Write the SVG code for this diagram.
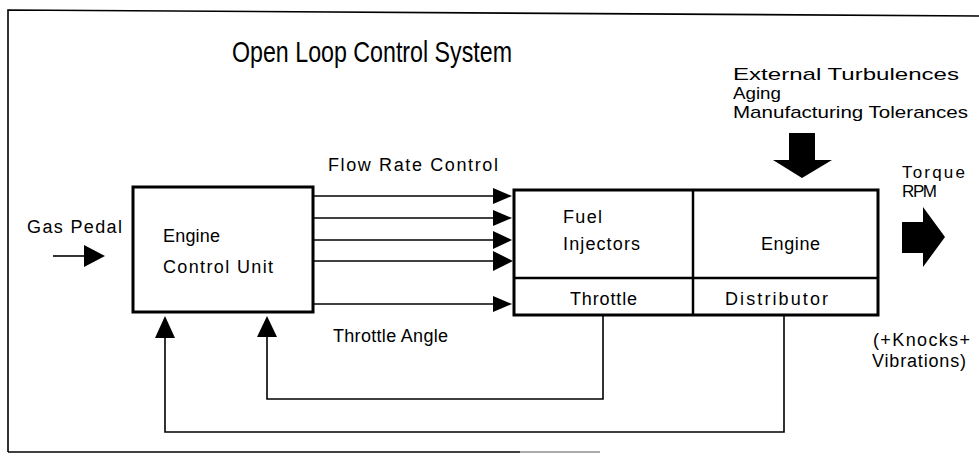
<svg xmlns="http://www.w3.org/2000/svg" width="979" height="459" viewBox="0 0 979 459">
<style>
text{font-family:"Liberation Sans",Arial,sans-serif;font-size:18px;fill:#000}
.title{font-size:30px}
.sm{font-size:17px}
.box{fill:none;stroke:#000;stroke-width:3}
.ln{fill:none;stroke:#000;stroke-width:1.6}
.head{fill:#000}
</style>
<rect width="979" height="459" fill="#fff"/>
<g id="frame">
<path d="M8,452 L8,10 L979,16" class="ln" stroke-width="2"/>
<line x1="8" y1="452" x2="520" y2="452" class="ln" stroke-width="2"/>
<line x1="520" y1="452" x2="600" y2="452" stroke="#aaa" stroke-width="2"/>
</g>
<g id="title"><text class="title" x="232" y="62" textLength="280" lengthAdjust="spacingAndGlyphs">Open Loop Control System</text></g>
<g id="disturbances">
<text class="sm" x="733" y="80" textLength="226" lengthAdjust="spacingAndGlyphs">External Turbulences</text>
<text class="sm" x="733" y="99" textLength="48" lengthAdjust="spacingAndGlyphs">Aging</text>
<text class="sm" x="733" y="118" textLength="235" lengthAdjust="spacingAndGlyphs">Manufacturing Tolerances</text>
<path class="head" d="M789,133 L815,133 L815,160 L832,160 L802,178 L773,160 L789,160 Z"/>
</g>
<g id="gas-pedal">
<text x="27" y="233" textLength="95" lengthAdjust="spacing">Gas Pedal</text>
<line class="ln" x1="53" y1="256" x2="85" y2="256"/>
<path class="head" d="M84,245 L105,256 L84,267 Z"/>
</g>
<g id="ecu">
<rect class="box" x="133" y="187" width="180" height="125"/>
<text x="163" y="242" textLength="57" lengthAdjust="spacing">Engine</text>
<text x="163" y="273" textLength="110" lengthAdjust="spacing">Control Unit</text>
</g>
<g id="plant">
<rect class="box" x="514" y="190" width="364" height="125"/>
<line x1="693" y1="190" x2="693" y2="315" stroke="#000" stroke-width="2.5"/>
<line x1="514" y1="278" x2="878" y2="278" stroke="#000" stroke-width="2.5"/>
<text x="563" y="223" textLength="39" lengthAdjust="spacing">Fuel</text>
<text x="563" y="250" textLength="77" lengthAdjust="spacing">Injectors</text>
<text x="761" y="250" textLength="59" lengthAdjust="spacing">Engine</text>
<text x="570" y="305" textLength="67" lengthAdjust="spacing">Throttle</text>
<text x="725" y="305" textLength="103" lengthAdjust="spacing">Distributor</text>
</g>
<g id="output">
<text class="sm" x="902" y="178" textLength="63" lengthAdjust="spacing">Torque</text>
<text class="sm" x="902" y="197" textLength="35" lengthAdjust="spacing">RPM</text>
<path class="head" d="M902,222 L923,222 L923,207 L945,237 L923,267 L923,253 L902,253 Z"/>
<text x="873" y="346" textLength="97" lengthAdjust="spacing">(+Knocks+</text>
<text x="872" y="367" textLength="94" lengthAdjust="spacing">Vibrations)</text>
</g>
<g id="connectors">
<text x="328" y="171" textLength="170" lengthAdjust="spacing">Flow Rate Control</text>
<line class="ln" x1="313" y1="196" x2="494" y2="196"/>
<line class="ln" x1="313" y1="218" x2="494" y2="218"/>
<line class="ln" x1="313" y1="240" x2="494" y2="240"/>
<line class="ln" x1="313" y1="261" x2="494" y2="261"/>
<line class="ln" x1="313" y1="304" x2="494" y2="304"/>
<path class="head" d="M493,188 L512,196 L493,204 Z"/>
<path class="head" d="M493,210 L512,218 L493,226 Z"/>
<path class="head" d="M493,231 L512,240 L493,249 Z"/>
<path class="head" d="M493,251 L513,261 L493,271 Z"/>
<path class="head" d="M493,296 L512,304 L493,312 Z"/>
<text x="333" y="342" textLength="115" lengthAdjust="spacing">Throttle Angle</text>
<polyline class="ln" points="603,315 603,399 267,399 267,335"/>
<path class="head" d="M257,337 L267,316 L277,337 Z"/>
<polyline class="ln" points="784,315 784,432 165,432 165,336"/>
<path class="head" d="M155,338 L165,316 L175,338 Z"/>
</g>
</svg>
